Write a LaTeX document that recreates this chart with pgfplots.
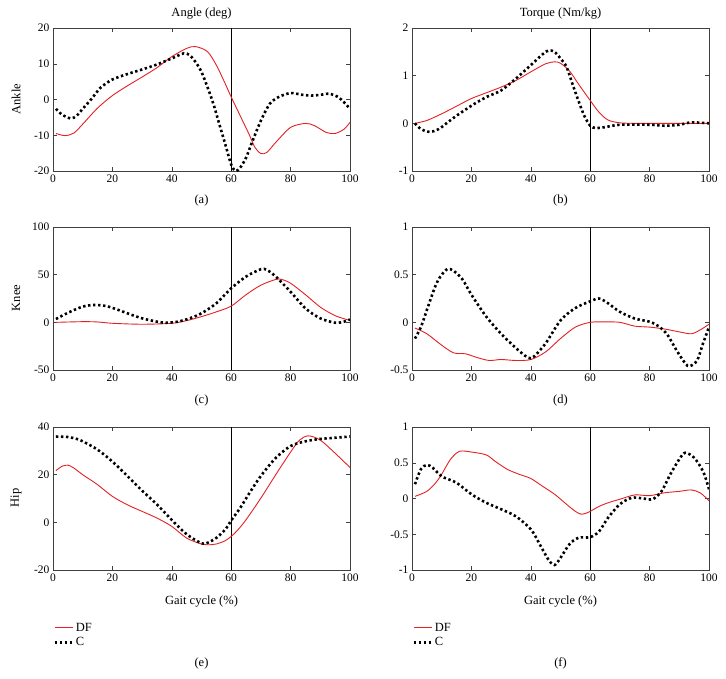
\documentclass[border=0pt]{standalone}
\usepackage{fontspec}
\setmainfont{Liberation Serif}
\usepackage{pgfplots}
\pgfplotsset{compat=1.18}

\definecolor{dfred}{RGB}{228,32,36}

\pgfplotsset{
  gait/.style={
    scale only axis,
    width=297pt, height=143pt,
    anchor=north west,
    xmin=0, xmax=100,
    xtick={0,20,...,100},
    axis line style={black!75, line width=0.6pt},
    every tick/.style={black!75, line width=0.5pt},
    major tick length=4pt,
    tick label style={font=\fontsize{11.5}{12}\selectfont},
    /pgf/number format/assume math mode=true,
    clip=true,
  },
  df/.style={dfred, line width=0.9pt, smooth},
  cc/.style={black, line width=2.6pt, dash pattern=on 2.4pt off 2.6pt, smooth},
  vl/.style={black, line width=0.7pt, forget plot},
  leg/.style={
    legend style={at={(0,-0.355)}, anchor=north west, draw=none, fill=none,
      font=\fontsize{12.5}{13}\selectfont, row sep=1pt, inner sep=0pt,
      cells={anchor=west}},
    legend image code/.code={\draw[##1] (0pt,0pt) -- (18pt,0pt);},
  },
}

\newcommand{\lab}{\fontsize{12.5}{14}\selectfont}

\begin{document}
\begin{tikzpicture}
\useasboundingbox (0,0) rectangle (726pt,-678pt);

% (a) ankle angle
\begin{axis}[gait, at={(53pt,-28pt)}, ymin=-20, ymax=20, ytick={-20,-10,...,20}]
\addplot[vl] coordinates {(60,-20) (60,20)};
\addplot[df] coordinates {
 (1,-9.5) (4,-10.1) (7,-9.4) (10,-6.9) (15,-2.4) (20,1.1) (25,3.8) (30,6.3)
 (35,8.9) (40,12) (45,14.3) (48,14.8) (52,13.4) (55,9.6) (58,4.4) (60,0.7)
 (63,-4.5) (66,-9.7) (68,-13.4) (70,-15.1) (72,-14.8) (75,-12) (80,-7.8)
 (85,-6.7) (88,-7.3) (92,-9.2) (95,-9.5) (98,-8.3) (100,-6.4)};
\addplot[cc] coordinates {
 (1,-2.6) (3,-4.2) (6,-5.3) (8,-4.5) (10,-2.6) (13,0.2) (16,3.3) (20,5.6)
 (25,7.1) (30,8.4) (35,9.8) (40,11.5) (44,12.9) (46,12.4) (48,10.5) (50,7.7)
 (52,3.5) (54,-1.2) (56,-6.9) (58,-12.5) (60,-18.2) (61.5,-20) (63,-19.1)
 (65,-16.3) (67,-12) (70,-5.9) (73,-1.2) (76,0.7) (80,1.8) (84,1.3) (87,1.1)
 (90,1.3) (93,1.6) (96,0.7) (98,-0.8) (100,-2.6)};
\end{axis}

% (b) ankle torque
\begin{axis}[gait, at={(412pt,-28pt)}, ymin=-1, ymax=2, ytick={-1,0,1,2}]
\addplot[vl] coordinates {(60,-1) (60,2)};
\addplot[df] coordinates {
 (1,0) (5,0.06) (10,0.2) (15,0.36) (20,0.52) (25,0.64) (30,0.76) (35,0.9)
 (40,1.08) (45,1.25) (48,1.29) (50,1.26) (53,1.1) (56,0.83) (60,0.48)
 (63,0.23) (66,0.07) (70,0.01) (75,0) (80,0) (90,0) (100,0)};
\addplot[cc] coordinates {
 (1,0) (3,-0.12) (6,-0.18) (9,-0.12) (12,0.02) (15,0.16) (20,0.37) (25,0.55)
 (30,0.69) (35,0.94) (40,1.22) (44,1.45) (46,1.53) (48,1.5) (50,1.36)
 (52,1.19) (54,0.83) (56,0.48) (58,0.16) (60,-0.05) (62,-0.1) (65,-0.08)
 (70,-0.03) (80,-0.03) (85,-0.05) (90,-0.03) (94,0.02) (100,0)};
\end{axis}

% (c) knee angle
\begin{axis}[gait, at={(53pt,-227pt)}, ymin=-50, ymax=100, ytick={-50,0,50,100}]
\addplot[vl] coordinates {(60,-50) (60,100)};
\addplot[df] coordinates {
 (1,0) (10,0.7) (15,0.4) (20,-1) (30,-2) (40,-1) (45,1.8) (50,6) (55,11)
 (60,17) (65,29) (70,39) (75,45) (77,45) (80,41) (85,29) (90,16) (95,7)
 (100,2)};
\addplot[cc] coordinates {
 (1,3.5) (5,10) (10,16.5) (14,18.2) (18,17) (22,13) (26,8.4) (30,4.2)
 (35,0.7) (38,-0.4) (42,0.7) (46,4.2) (50,9.5) (55,20) (60,35.7) (65,48)
 (70,55.7) (72,55) (75,48) (80,32) (85,14.7) (90,4.2) (95,-0.4) (98,0.7)
 (100,3)};
\end{axis}

% (d) knee torque
\begin{axis}[gait, at={(412pt,-227pt)}, ymin=-0.5, ymax=1, ytick={-0.5,0,0.5,1}]
\addplot[vl] coordinates {(60,-0.5) (60,1)};
\addplot[df] coordinates {
 (1,-0.06) (5,-0.12) (10,-0.24) (14,-0.32) (18,-0.33) (22,-0.37) (26,-0.4)
 (30,-0.39) (35,-0.4) (40,-0.39) (45,-0.31) (50,-0.17) (55,-0.05) (60,0)
 (65,0.005) (70,0) (75,-0.04) (80,-0.05) (85,-0.07) (90,-0.1) (94,-0.12)
 (97,-0.08) (100,-0.02)};
\addplot[cc] coordinates {
 (1,-0.17) (3,-0.05) (5,0.13) (8,0.39) (10,0.5) (12,0.56) (14,0.54) (17,0.45)
 (20,0.29) (25,0.06) (30,-0.12) (35,-0.27) (39,-0.37) (41,-0.36) (45,-0.22)
 (50,0.02) (55,0.15) (60,0.22) (63,0.25) (66,0.2) (70,0.11) (75,0.04)
 (80,0.007) (83,-0.04) (86,-0.13) (89,-0.29) (92,-0.43) (93.5,-0.46)
 (96,-0.4) (98,-0.22) (100,-0.05)};
\end{axis}

% (e) hip angle
\begin{axis}[gait, leg, at={(53pt,-427pt)}, ymin=-20, ymax=40, ytick={-20,0,20,40}]
\addplot[vl] coordinates {(60,-20) (60,40)};
\addplot[df] coordinates {
 (1,21.7) (3,23.5) (5,24) (7,22.8) (10,20) (15,15.8) (20,10.9) (25,7.4)
 (30,4.6) (35,1.8) (40,-1.7) (45,-6.6) (50,-9.1) (53,-9.4) (55,-9.1)
 (58,-7.7) (60,-5.9) (62,-3.5) (65,1.1) (70,10.2) (75,20) (80,29.5)
 (83,34.5) (86,36.3) (90,34.5) (95,29) (100,23)};
\addplot[cc] coordinates {
 (1,36) (5,35.8) (8,35) (10,34) (15,30.5) (20,25.5) (25,19.5) (30,13.3)
 (35,7.5) (40,1) (45,-5) (50,-8.8) (52,-8.6) (55,-6.5) (58,-3) (60,0.8)
 (63,6) (66,12) (70,19.5) (75,27) (80,32) (85,34) (90,35) (95,35.5) (100,36)};
\legend{DF, C}
\end{axis}

% (f) hip torque
\begin{axis}[gait, leg, at={(412pt,-427pt)}, ymin=-1, ymax=1, ytick={-1,-0.5,0,0.5,1}]
\addplot[vl] coordinates {(60,-1) (60,1)};
\addplot[df] coordinates {
 (1,0.03) (5,0.1) (8,0.22) (10,0.34) (13,0.55) (16,0.66) (20,0.65) (25,0.61)
 (28,0.52) (32,0.41) (36,0.34) (40,0.28) (44,0.17) (48,0.06) (52,-0.08)
 (55,-0.18) (57,-0.22) (59,-0.2) (60,-0.18) (63,-0.11) (66,-0.06) (70,-0.01)
 (75,0.05) (80,0.04) (85,0.08) (90,0.1) (94,0.12) (97,0.08) (100,-0.03)};
\addplot[cc] coordinates {
 (1,0.2) (3,0.41) (5,0.47) (7,0.43) (10,0.31) (15,0.22) (20,0.06) (25,-0.06)
 (30,-0.15) (35,-0.25) (40,-0.43) (43,-0.64) (46,-0.86) (48,-0.93) (50,-0.83)
 (53,-0.64) (56,-0.55) (60,-0.54) (63,-0.46) (66,-0.27) (70,-0.08) (74,0.01)
 (78,0) (81,-0.01) (84,0.1) (87,0.34) (90,0.55) (92,0.64) (95,0.57)
 (98,0.38) (100,0.13)};
\legend{DF, C}
\end{axis}

% titles, row labels and captions
\node[font=\lab] at (201.5pt,-14pt) {Angle (deg)};
\node[font=\lab] at (560.5pt,-14pt) {Torque (Nm/kg)};
\node[font=\lab, rotate=90] at (16pt,-99pt) {Ankle};
\node[font=\lab, rotate=90] at (16pt,-298pt) {Knee};
\node[font=\lab, rotate=90] at (16pt,-498pt) {Hip};
\node[font=\lab] at (201.5pt,-200pt) {(a)};
\node[font=\lab] at (560.5pt,-200pt) {(b)};
\node[font=\lab] at (201.5pt,-400pt) {(c)};
\node[font=\lab] at (560.5pt,-400pt) {(d)};
\node[font=\lab] at (201.5pt,-602pt) {Gait cycle (\%)};
\node[font=\lab] at (560.5pt,-602pt) {Gait cycle (\%)};
\node[font=\lab] at (201.5pt,-663pt) {(e)};
\node[font=\lab] at (560.5pt,-663pt) {(f)};
\end{tikzpicture}
\end{document}
